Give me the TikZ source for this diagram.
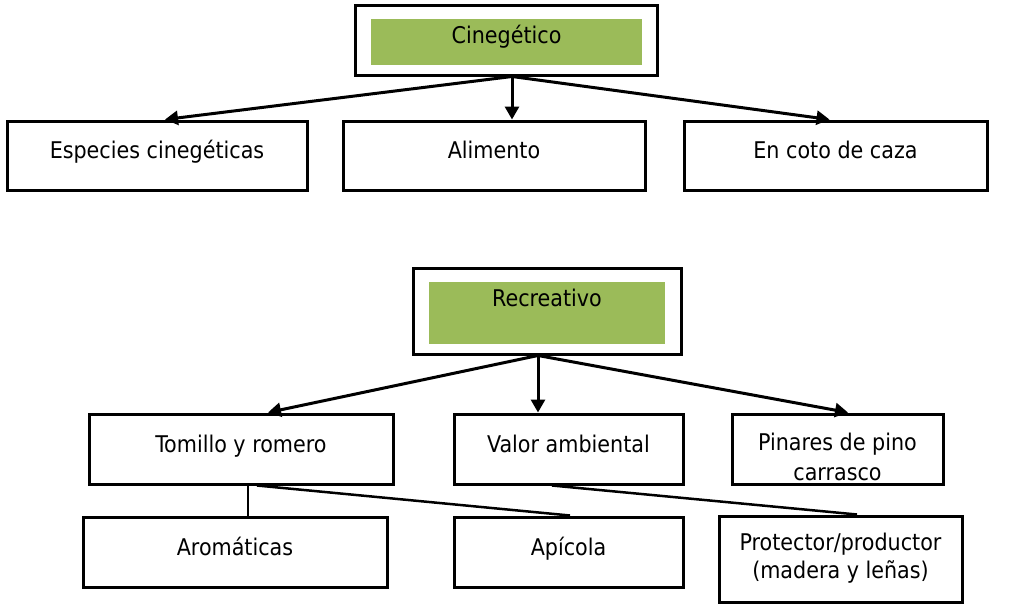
\documentclass[tikz,border=0pt]{standalone}
\usepackage{fontspec}
\setmainfont{DejaVu Sans Condensed}
\usetikzlibrary{arrows.meta}
\definecolor{verdehoja}{RGB}{155,187,89}

\begin{document}
\begin{tikzpicture}[x=1pt,y=-1pt,line width=3pt]
        \tikzstyle{caja}=[rectangle,draw=black,fill=white,inner sep=0pt,font=\fontsize{23}{30}\selectfont,text height=16pt]
        \tikzstyle{verde}=[rectangle,fill=verdehoja,inner sep=0pt,font=\fontsize{23}{30}\selectfont,text height=16pt]
        \tikzstyle{flecha}=[-{Triangle[length=13pt,width=14pt]}]

        \useasboundingbox (0,0) rectangle (1017,605);

        % Cinegetico
        \node[caja,minimum width=302pt,minimum height=70pt] (V-cin) at (506,40) {};
        \node[verde,minimum width=271pt,minimum height=46pt,text depth=14pt] (V-cinv) at (506.5,42) {Cinegético};

        \foreach \num/\x/\w/\txt in {esp/157/300/Especies cinegéticas, ali/494/302/Alimento, coto/835.5/303/En coto de caza}
                \node[caja,minimum width=\w pt,minimum height=69pt,text depth=11pt] (V-\num) at (\x,155.5) {\txt};

        \foreach \to/\s in {esp/8, ali/18, coto/-6}
                \draw[flecha] ([xshift=6pt]V-cin.south) -- ([xshift=\s pt]V-\to.north);

        % Recreativo
        \node[caja,minimum width=268pt,minimum height=86pt] (V-rec) at (547,311) {};
        \node[verde,minimum width=236pt,minimum height=62pt,text depth=30pt] (V-recv) at (547,313) {Recreativo};

        \foreach \num/\x/\w/\txt in {tom/241/304/Tomillo y romero, val/568.5/229/Valor ambiental}
                \node[caja,minimum width=\w pt,minimum height=70pt,text depth=10pt] (V-\num) at (\x,449) {\txt};
        \node[caja,minimum width=211pt,minimum height=70pt,align=center,font=\fontsize{23}{30}\selectfont,text height=64pt,text depth=2pt] (V-pin) at (837.5,449) {Pinares de pino\\carrasco};

        \foreach \to/\s in {tom/27, val/-30.5, pin/10.5}
                \draw[flecha] ([xshift=-9pt]V-rec.south) -- ([xshift=\s pt]V-\to.north);

        \foreach \num/\x/\w/\txt in {aro/235/304/Aromáticas, api/568.5/229/Apícola}
                \node[caja,minimum width=\w pt,minimum height=70pt,text depth=10pt] (V-\num) at (\x,552) {\txt};
        \node[caja,minimum width=243pt,minimum height=86pt,align=center,font=\fontsize{23}{28}\selectfont,text height=44pt,text depth=6pt] (V-pro) at (840.5,559) {Protector/productor\\(madera y leñas)};

        \draw[line width=2.5pt] ([xshift=7pt]V-tom.south) -- ([xshift=7pt]V-tom.south |- V-aro.north);
        \draw[line width=2.5pt] ([xshift=16pt]V-tom.south) -- ([xshift=1.5pt]V-api.north);
        \draw[line width=2.5pt] ([xshift=-16.5pt]V-val.south) -- ([xshift=16.5pt]V-pro.north);
\end{tikzpicture}
\end{document}
